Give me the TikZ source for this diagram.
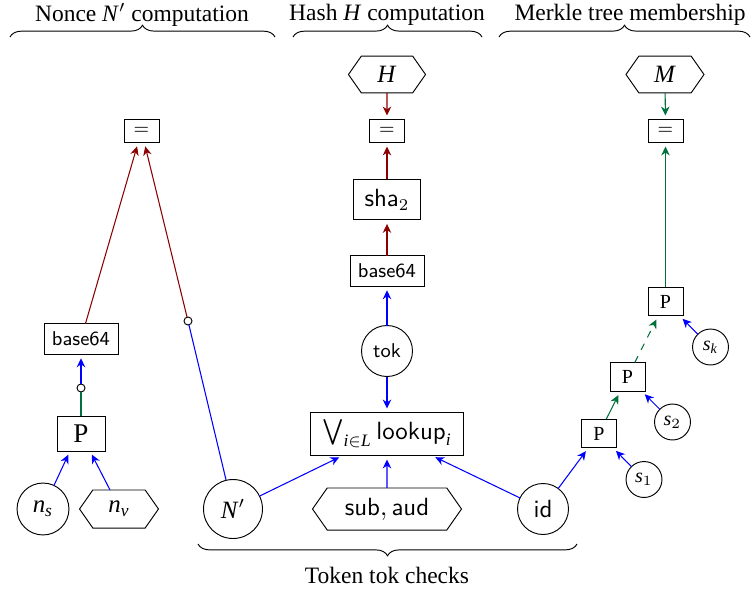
\documentclass[tikz,border=0pt]{standalone}
\usepackage{amsmath}
\usepackage{fontspec}
\setmainfont{Liberation Serif}
\usetikzlibrary{arrows.meta,shapes.symbols,decorations.pathreplacing,calc}
\definecolor{dred}{RGB}{140,0,0}
\definecolor{dgreen}{RGB}{0,112,60}
\definecolor{eblue}{RGB}{0,0,255}
\newcommand{\fsS}{\fontsize{8.5}{10}\selectfont}
\newcommand{\fsL}{\fontsize{10.6}{12}\selectfont}
\newcommand{\fsP}{\fontsize{11.5}{13}\selectfont}
\newcommand{\vi}[1]{\textit{#1}}
\begin{document}
\begin{tikzpicture}[x=0.4255pt,y=-0.4255pt,
  every node/.style={inner sep=0pt,outer sep=0pt,line width=0.4pt},
  rbox/.style n args={2}{draw,rectangle,minimum width=#1,minimum height=#2},
  eqbox/.style={rbox={14.9pt}{9.8pt},font=\fsS},
  bsbox/.style={rbox={31.5pt}{13pt},font=\fsS},
  bigP/.style={rbox={20.4pt}{14.9pt},font=\fsP},
  smallP/.style={rbox={14.9pt}{12.3pt},font=\fsS},
  shabox/.style={rbox={28.5pt}{17.4pt},font=\fsL},
  lookbox/.style={rbox={65pt}{18.3pt},font=\fsL},
  circ/.style={draw,circle,minimum size=#1},
  hexa/.style n args={2}{draw,signal,signal to=west and east,signal pointer angle=110,minimum width=#1,minimum height=#2},
  dot/.style={draw,circle,fill=white,minimum size=3.4pt},
  arr/.style={-{Stealth[length=3.8pt,width=3.6pt,inset=1.2pt]},shorten >=1.7pt,line width=0.45pt},
  ln/.style={line width=0.45pt},
  brc/.style={decorate,decoration={brace,amplitude=5pt},line width=0.4pt},
  ttl/.style={font=\fontsize{10}{12}\selectfont}
]
\useasboundingbox (0,0) rectangle (753,592);

% titles and braces
\node[ttl] (t1) at (142,15) {Nonce \vi{N}$'$ computation};
\node[ttl] (t2) at (387,15) {Hash \vi{H} computation};
\node[ttl] (t3) at (630,15) {Merkle tree membership};
\node[ttl] (t4) at (387,575) {Token tok checks};
\coordinate (b1a) at (10,37); \coordinate (b1b) at (275,37);
\coordinate (b2a) at (293,37); \coordinate (b2b) at (482,37);
\coordinate (b3a) at (499,37); \coordinate (b3b) at (750,37);
\coordinate (b4a) at (577,544); \coordinate (b4b) at (198,544);
\draw[brc] (b1a) -- (b1b);
\draw[brc] (b2a) -- (b2b);
\draw[brc] (b3a) -- (b3b);
\draw[brc] (b4a) -- (b4b);

% left column
\node[eqbox] (eqL) at (141.5,131) {$=$};
\node[bsbox] (b64L) at (81,339) {\textsf{base64}};
\node[bigP] (PL) at (81,433.5) {P};
\node[circ=22.1pt,font=\fsL] (ns) at (43,509) {$\vi{n}_{\vi{s}}$};
\node[hexa={33.6pt}{16.2pt},font=\fsL] (nv) at (119,509) {$\vi{n}_{\vi{v}}$};
\node[dot] (c1) at (81,388) {};

% middle column
\node[hexa={32.8pt}{15.7pt},font=\fsL] (H) at (387,74.5) {\vi{H}};
\node[eqbox] (eqM) at (387,131) {$=$};
\node[shabox] (sha) at (387,199.5) {$\textsf{sha}_2$};
\node[bsbox] (b64M) at (387,271) {\textsf{base64}};
\node[circ=21.7pt,font=\fsS] (tok) at (387,351) {\textsf{tok}};
\node[lookbox] (look) at (387,434) {$\bigvee_{\vi{i}\in \vi{L}}\textsf{lookup}_{\vi{i}}$};
\node[circ=25.1pt,font=\fsL] (Np) at (233,509) {\vi{N}$'$};
\node[hexa={63.4pt}{17.9pt},font=\fsL] (sa) at (387,509) {$\textsf{sub},\textsf{aud}$};
\node[circ=21.7pt,font=\fsL] (id) at (543,509) {\textsf{id}};
\node[dot] (c2) at (188,321) {};

% right column
\node[hexa={33.2pt}{15.7pt},font=\fsL] (M) at (665,74.5) {\vi{M}};
\node[eqbox] (eqR) at (665.5,131) {$=$};
\node[smallP] (P3) at (665.5,301.5) {P};
\node[smallP] (P2) at (627.5,377) {P};
\node[smallP] (P1) at (599,433.5) {P};
\node[circ=15.3pt,font=\fsS] (sk) at (710.5,347) {$\vi{s}_{\vi{k}}$};
\node[circ=15.3pt,font=\fsS] (s2) at (672.5,422) {$\vi{s}_2$};
\node[circ=15.3pt,font=\fsS] (s1) at (644,479.5) {$\vi{s}_1$};

% left edges
\draw[arr,eblue] (ns) -- ($(PL.south)+(-11,0)$);
\draw[arr,eblue] ($(nv.north)+(-9,0)$) -- ($(PL.south)+(9,0)$);
\draw[ln,dgreen] (PL) -- (c1);
\draw[arr,eblue] (c1) -- (b64L);
\draw[arr,dred] (b64L) -- (eqL);
\draw[ln,eblue] (Np) -- (c2);
\draw[arr,dred] (c2) -- (eqL);

% middle edges
\draw[arr,dred] (H) -- (eqM);
\draw[arr,dred] (sha) -- (eqM);
\draw[arr,dred] (b64M) -- (sha);
\draw[arr,eblue] (tok) -- (b64M);
\draw[arr,eblue] (tok) -- (look);
\draw[arr,eblue] (sa) -- (look);
\draw[arr,eblue] (Np) -- (look);
\draw[arr,eblue] (id) -- (look);

% right edges
\draw[arr,eblue] (id) -- (P1);
\draw[arr,eblue] (s1) -- (P1);
\draw[arr,eblue] (s2) -- (P2);
\draw[arr,eblue] (sk) -- (P3);
\draw[arr,dgreen] (P1) -- (P2);
\draw[arr,dgreen,dashed] (P2) -- (P3);
\draw[arr,dgreen] (P3) -- (eqR);
\draw[arr,dgreen] (M) -- (eqR);
\end{tikzpicture}
\end{document}
